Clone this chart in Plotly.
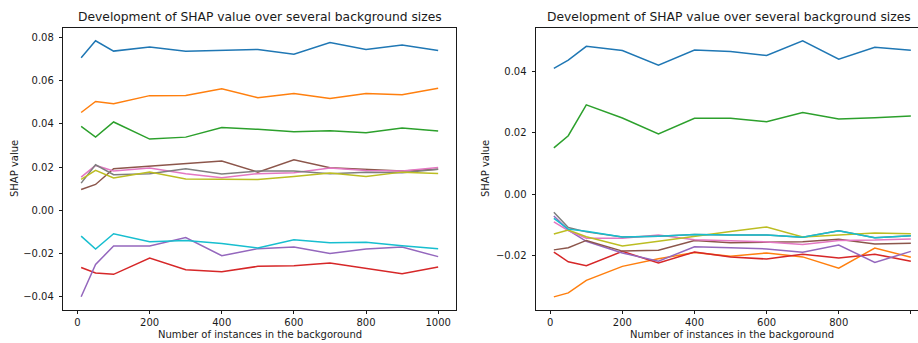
import plotly.graph_objects as go

# Background sizes at which SHAP values were computed
background_sizes = [10, 50, 100, 200, 300, 400, 500, 600, 700, 800, 900, 1000]

# Panel 1: SHAP value per feature
p1_f0 = [0.0706, 0.0785, 0.0737, 0.0756, 0.0736, 0.0739, 0.0745, 0.0723, 0.0777, 0.0745, 0.0765, 0.0740]
p1_f1 = [0.0453, 0.0504, 0.0494, 0.0531, 0.0532, 0.0563, 0.0521, 0.0541, 0.0518, 0.0541, 0.0535, 0.0565]
p1_f2 = [0.0389, 0.0339, 0.0409, 0.0330, 0.0339, 0.0383, 0.0375, 0.0364, 0.0369, 0.0359, 0.0381, 0.0367]
p1_f3 = [-0.0264, -0.0290, -0.0296, -0.0221, -0.0275, -0.0284, -0.0259, -0.0256, -0.0244, -0.0267, -0.0293, -0.0262]
p1_f4 = [-0.0400, -0.0250, -0.0165, -0.0165, -0.0126, -0.0210, -0.0177, -0.0170, -0.0199, -0.0179, -0.0170, -0.0214]
p1_f5 = [0.0097, 0.0120, 0.0193, 0.0205, 0.0216, 0.0228, 0.0177, 0.0234, 0.0197, 0.0188, 0.0182, 0.0190]
p1_f6 = [0.0154, 0.0208, 0.0182, 0.0196, 0.0170, 0.0151, 0.0170, 0.0174, 0.0196, 0.0185, 0.0182, 0.0198]
p1_f7 = [0.0126, 0.0211, 0.0165, 0.0170, 0.0193, 0.0168, 0.0182, 0.0182, 0.0170, 0.0177, 0.0174, 0.0190]
p1_f8 = [0.0143, 0.0185, 0.0150, 0.0177, 0.0145, 0.0143, 0.0143, 0.0157, 0.0173, 0.0157, 0.0177, 0.0171]
p1_f9 = [-0.0119, -0.0179, -0.0108, -0.0145, -0.0139, -0.0153, -0.0174, -0.0136, -0.0150, -0.0148, -0.0164, -0.0177]

# Panel 2: SHAP value per feature
p2_f0 = [0.0412, 0.0439, 0.0484, 0.0470, 0.0422, 0.0472, 0.0467, 0.0454, 0.0502, 0.0442, 0.0481, 0.0471]
p2_f1 = [-0.0337, -0.0324, -0.0283, -0.0237, -0.0212, -0.0192, -0.0204, -0.0193, -0.0206, -0.0243, -0.0177, -0.0207]
p2_f2 = [0.0151, 0.0191, 0.0292, 0.0249, 0.0197, 0.0248, 0.0248, 0.0237, 0.0267, 0.0246, 0.0250, 0.0256]
p2_f3 = [-0.0190, -0.0222, -0.0235, -0.0188, -0.0226, -0.0190, -0.0206, -0.0213, -0.0197, -0.0210, -0.0197, -0.0220]
p2_f4 = [-0.0072, -0.0118, -0.0155, -0.0193, -0.0220, -0.0173, -0.0176, -0.0180, -0.0191, -0.0167, -0.0224, -0.0188]
p2_f5 = [-0.0183, -0.0176, -0.0152, -0.0187, -0.0184, -0.0152, -0.0160, -0.0157, -0.0156, -0.0148, -0.0164, -0.0161]
p2_f6 = [-0.0091, -0.0120, -0.0145, -0.0145, -0.0134, -0.0150, -0.0153, -0.0157, -0.0165, -0.0152, -0.0151, -0.0147]
p2_f7 = [-0.0060, -0.0110, -0.0124, -0.0141, -0.0138, -0.0133, -0.0134, -0.0134, -0.0142, -0.0120, -0.0143, -0.0137]
p2_f8 = [-0.0131, -0.0118, -0.0140, -0.0170, -0.0155, -0.0138, -0.0123, -0.0108, -0.0141, -0.0134, -0.0128, -0.0130]
p2_f9 = [-0.0080, -0.0115, -0.0122, -0.0141, -0.0138, -0.0133, -0.0134, -0.0134, -0.0142, -0.0120, -0.0143, -0.0137]

panel1 = [p1_f0, p1_f1, p1_f2, p1_f3, p1_f4, p1_f5, p1_f6, p1_f7, p1_f8, p1_f9]
panel2 = [p2_f0, p2_f1, p2_f2, p2_f3, p2_f4, p2_f5, p2_f6, p2_f7, p2_f8, p2_f9]

x_ticks = [0, 200, 400, 600, 800, 1000]
y_ticks_1 = [-0.04, -0.02, 0.00, 0.02, 0.04, 0.06, 0.08]
y_ticks_2 = [-0.02, 0.00, 0.02, 0.04]

title_text = "Development of SHAP value over several background sizes"
x_label = "Number of instances in the backgoround"
y_label = "SHAP value"

palette = ["#1f77b4", "#ff7f0e", "#2ca02c", "#d62728", "#9467bd",
           "#8c564b", "#e377c2", "#7f7f7f", "#bcbd22", "#17becf"]

W, H = 918, 343
FONT = "DejaVu Sans"
INK = "#1a1a1a"

fig = go.Figure()

for vals, col in zip(panel1, palette):
    fig.add_trace(go.Scatter(x=background_sizes, y=vals, mode="lines",
                             line=dict(color=col, width=1.5),
                             xaxis="x", yaxis="y", showlegend=False))
for vals, col in zip(panel2, palette):
    fig.add_trace(go.Scatter(x=background_sizes, y=vals, mode="lines",
                             line=dict(color=col, width=1.5),
                             xaxis="x2", yaxis="y2", showlegend=False))

# axes frames in pixel terms
ax1_l, ax1_r = 63.3, 456.0
ax2_l, ax2_r = 536.0, 918.0
ax_top, ax_bot = 28.0, 310.0
ydom = [(H - ax_bot) / H, (H - ax_top) / H]

common_axis = dict(showgrid=False, zeroline=False, showline=True,
                   linecolor=INK, linewidth=0.9, ticks="outside",
                   ticklen=3.5, tickwidth=0.8, tickcolor=INK,
                   tickfont=dict(family=FONT, size=10, color=INK))

fig.update_layout(
    width=W, height=H,
    margin=dict(l=0, r=0, t=0, b=0),
    paper_bgcolor="white", plot_bgcolor="white",
    hovermode=False,
    xaxis=dict(domain=[ax1_l / W, ax1_r / W], range=[-39.5, 1049.5],
               tickvals=x_ticks, mirror=True, anchor="y", **common_axis),
    yaxis=dict(domain=ydom, range=[-0.0461, 0.0844], tickvals=y_ticks_1,
               tickformat=".2f", mirror=True, anchor="x",
               ticklabelstandoff=3, **common_axis),
    xaxis2=dict(domain=[ax2_l / W, ax2_r / W], range=[-39.5, 1019.8],
                tickvals=x_ticks, mirror=True, anchor="y2", **common_axis),
    yaxis2=dict(domain=ydom, range=[-0.0380, 0.0544], tickvals=y_ticks_2,
                tickformat=".2f", mirror=False, anchor="x2",
                ticklabelstandoff=3, **common_axis),
)

# titles and axis labels
ax1_c = (ax1_l + ax1_r) / 2
ax2_c = (ax2_l + 928.4) / 2 - 3
for cx, ylab_x in [(ax1_c, 14.0), (ax2_c, 485.0)]:
    fig.add_annotation(text=title_text, x=cx / W, y=(H - 16.7) / H,
                       xref="paper", yref="paper", showarrow=False,
                       xanchor="center", yanchor="middle",
                       font=dict(family=FONT, size=12.3, color=INK))
    fig.add_annotation(text=x_label, x=(cx if cx < 500 else 731.7) / W,
                       y=(H - 334.3) / H,
                       xref="paper", yref="paper", showarrow=False,
                       xanchor="center", yanchor="middle",
                       font=dict(family=FONT, size=10, color=INK))
    fig.add_annotation(text=y_label, x=ylab_x / W, y=(H - 169.0) / H,
                       xref="paper", yref="paper", showarrow=False,
                       textangle=-90, xanchor="center", yanchor="middle",
                       font=dict(family=FONT, size=10, color=INK))

fig.write_html("out.html", config={"displayModeBar": False})
